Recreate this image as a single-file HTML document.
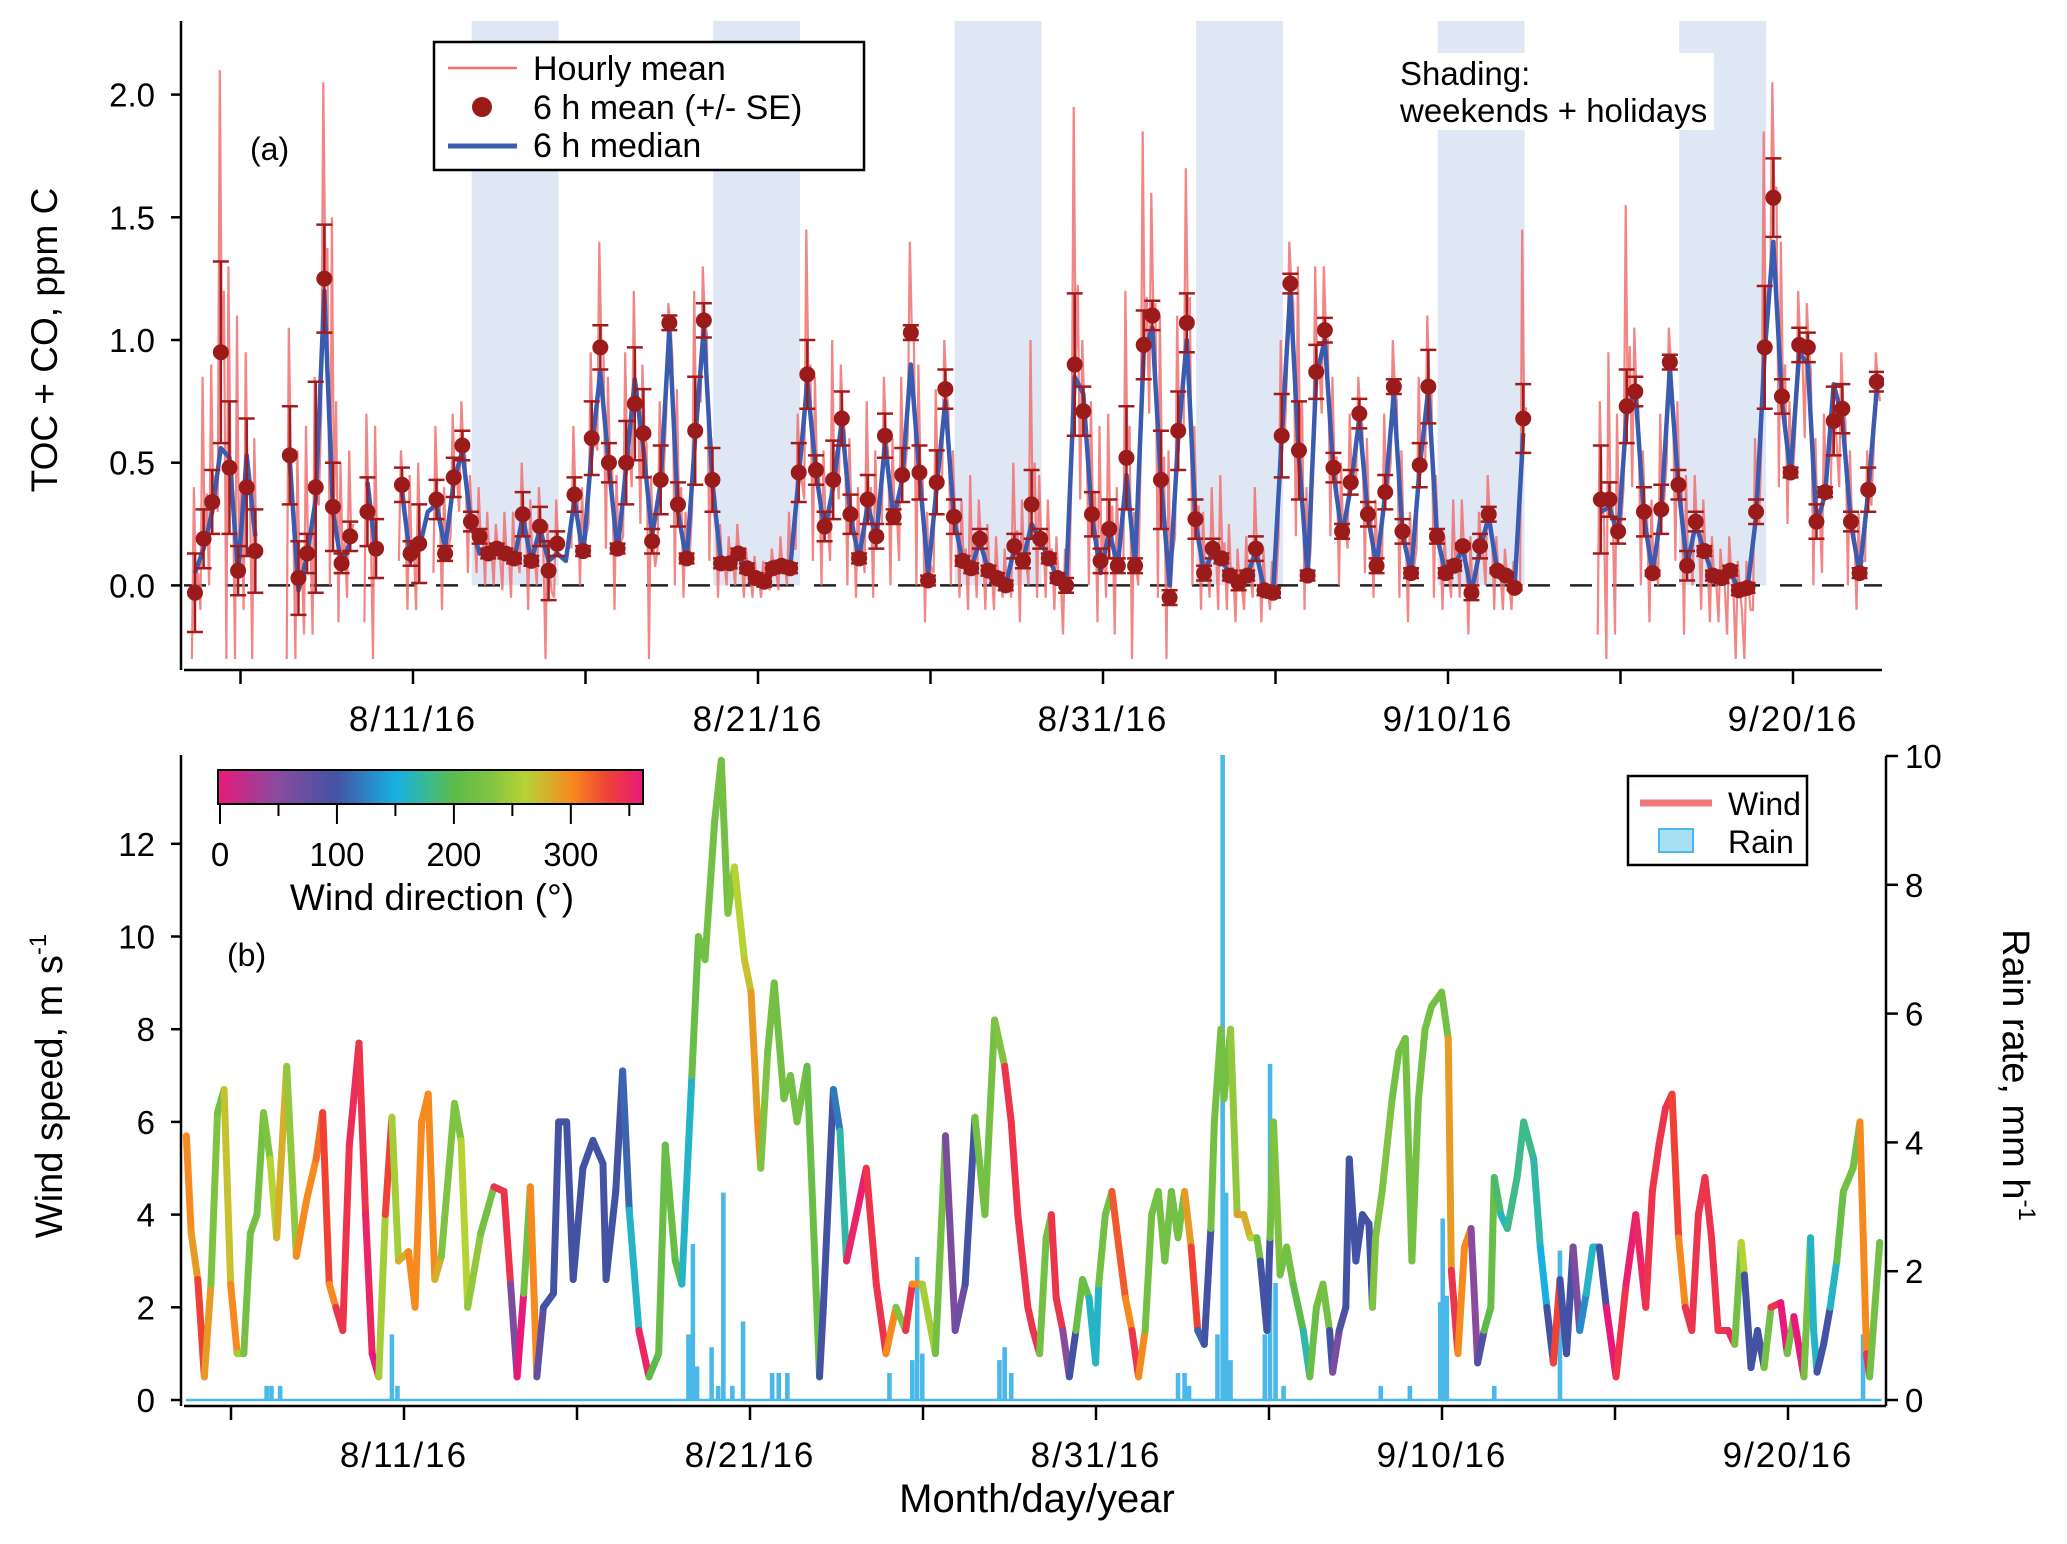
<!DOCTYPE html>
<html><head><meta charset="utf-8">
<style>
html,body{margin:0;padding:0;background:#fff;}
svg{display:block;font-family:"Liberation Sans",Arial,sans-serif;}
</style></head>
<body>
<svg id="chart" width="2067" height="1544" viewBox="0 0 2067 1544" xmlns="http://www.w3.org/2000/svg">
<defs>
<clipPath id="clipTop"><rect x="182" y="21" width="1702" height="648"/></clipPath>
<clipPath id="clipBot"><rect x="182" y="755" width="1704" height="650"/></clipPath>
<linearGradient id="dirGrad" x1="0" x2="1" y1="0" y2="0">
<stop offset="0" stop-color="#e8197b"/><stop offset="0.139" stop-color="#8a4b9e"/><stop offset="0.278" stop-color="#4452a3"/><stop offset="0.417" stop-color="#17b0e3"/><stop offset="0.5" stop-color="#3dbb8a"/><stop offset="0.556" stop-color="#5dbb4a"/><stop offset="0.639" stop-color="#80c342"/><stop offset="0.722" stop-color="#b6d334"/><stop offset="0.833" stop-color="#f68a1f"/><stop offset="0.917" stop-color="#ef4136"/><stop offset="1" stop-color="#e8197b"/>
</linearGradient>
</defs>
<g id="topShade"></g>
<g id="topData" clip-path="url(#clipTop)"></g>
<g id="topAxes"></g>
<g id="botData" clip-path="url(#clipBot)"></g>
<g id="botAxes"></g>

<g>
<rect x="434" y="42" width="430" height="128" fill="#fff" stroke="#000" stroke-width="2.5"/>
<line x1="448" y1="68" x2="517" y2="68" stroke="#f07070" stroke-width="2.5"/>
<text x="533" y="80" font-size="34">Hourly mean</text>
<circle cx="482" cy="107" r="10" fill="#9b1b1b"/>
<text x="533" y="119" font-size="34">6 h mean (+/- SE)</text>
<line x1="448" y1="146" x2="517" y2="146" stroke="#3a5bb0" stroke-width="5"/>
<text x="533" y="157" font-size="34">6 h median</text>
</g>
<text x="250" y="160" font-size="32">(a)</text>
<g>
<rect x="1396" y="53" width="318" height="77" fill="#fff"/>
<text x="1400" y="85" font-size="33">Shading:</text>
<text x="1400" y="122" font-size="33">weekends + holidays</text>
</g>
<text transform="translate(57,340) rotate(-90)" text-anchor="middle" font-size="37">TOC + CO, ppm C</text>

<g>
<rect x="218" y="770" width="425" height="34" fill="url(#dirGrad)" stroke="#000" stroke-width="2"/>
<text x="432" y="910" text-anchor="middle" font-size="37">Wind direction (°)</text>
</g>
<text x="227" y="966" font-size="32">(b)</text>
<g>
<rect x="1628" y="776" width="179" height="89" fill="#fff" stroke="#000" stroke-width="2.5"/>
<line x1="1640" y1="803" x2="1712" y2="803" stroke="#f07878" stroke-width="7"/>
<text x="1728" y="815" font-size="32">Wind</text>
<rect x="1659" y="829" width="34" height="23" fill="#a8e0f5" stroke="#4ab8e8" stroke-width="2"/>
<text x="1728" y="853" font-size="32">Rain</text>
</g>
<text transform="translate(62,1086) rotate(-90)" text-anchor="middle" font-size="38">Wind speed, m s<tspan dy="-16" font-size="24">-1</tspan></text>
<text transform="translate(2003,1075) rotate(90)" text-anchor="middle" font-size="38">Rain rate, mm h<tspan dy="-16" font-size="24">-1</tspan></text>
<text x="1037" y="1512" text-anchor="middle" font-size="40">Month/day/year</text>
</svg>
<script>
const tocStart = 3.68;
const tocStep = 0.25;
const tocMean = [-0.03,0.19,0.34,0.95,0.48,0.06,0.40,0.14,null,null,
null,0.53,0.03,0.13,0.40,1.25,0.32,0.09,0.20,null,
0.30,0.15,null,null,0.41,0.13,0.17,null,0.35,0.13,
0.44,0.57,0.26,0.20,0.13,0.15,0.13,0.11,0.29,0.10,
0.24,0.06,0.17,null,0.37,0.14,0.60,0.97,0.50,0.15,
0.50,0.74,0.62,0.18,0.43,1.07,0.33,0.11,0.63,1.08,
0.43,0.09,0.09,0.13,0.07,0.03,0.015,0.07,0.08,0.07,
0.46,0.86,0.47,0.24,0.43,0.68,0.29,0.11,0.35,0.20,
0.61,0.28,0.45,1.03,0.46,0.02,0.42,0.80,0.28,0.10,
0.07,0.19,0.06,0.03,0.00,0.16,0.10,0.33,0.19,0.11,
0.03,0.00,0.90,0.71,0.29,0.10,0.23,0.08,0.52,0.08,
0.98,1.10,0.43,-0.05,0.63,1.07,0.27,0.05,0.15,0.11,
0.04,0.01,0.04,0.15,-0.02,-0.03,0.61,1.23,0.55,0.04,
0.87,1.04,0.48,0.22,0.42,0.70,0.29,0.08,0.38,0.81,
0.22,0.05,0.49,0.81,0.20,0.05,0.08,0.16,-0.03,0.16,
0.29,0.06,0.04,-0.01,0.68,null,null,null,null,null,
null,null,null,0.35,0.35,0.22,0.73,0.79,0.30,0.05,
0.31,0.91,0.41,0.08,0.26,0.14,0.04,0.03,0.06,-0.02,
-0.01,0.30,0.97,1.58,0.77,0.46,0.98,0.97,0.26,0.38,
0.67,0.72,0.26,0.05,0.39,0.83];
const tocMedian = [0.05,0.15,0.30,0.56,0.52,0.05,0.53,0.20,null,null,
null,0.50,-0.02,0.12,0.35,1.20,0.30,0.08,0.18,null,
0.42,0.12,null,null,0.38,0.10,0.15,0.30,0.33,0.15,
0.42,0.55,0.25,0.13,0.14,0.13,0.12,0.10,0.28,0.10,
0.23,0.10,0.13,0.10,0.35,0.12,0.55,0.87,0.48,0.14,
0.48,0.84,0.55,0.20,0.42,1.04,0.30,0.10,0.60,1.05,
0.41,0.09,0.09,0.12,0.07,0.03,0.02,0.07,0.08,0.07,
0.44,0.83,0.46,0.22,0.40,0.67,0.28,0.11,0.33,0.19,
0.58,0.27,0.43,0.90,0.45,0.05,0.40,0.75,0.27,0.10,
0.07,0.18,0.06,0.03,0.00,0.15,0.10,0.25,0.18,0.11,
0.03,0.01,0.85,0.78,0.28,0.05,0.22,0.08,0.45,0.08,
0.95,1.05,0.42,0.00,0.60,1.00,0.26,0.05,0.14,0.11,
0.04,0.01,0.04,0.14,-0.02,-0.03,0.60,1.20,0.52,0.04,
0.85,1.00,0.46,0.20,0.40,0.68,0.28,0.08,0.37,0.78,
0.21,0.05,0.48,0.80,0.20,0.05,0.08,0.15,-0.03,0.15,
0.28,0.06,0.04,-0.01,0.62,null,null,null,null,null,
null,null,null,0.30,0.32,0.20,0.70,0.80,0.28,0.05,
0.30,0.88,0.40,0.08,0.25,0.14,0.04,0.03,0.06,-0.02,
-0.01,0.28,0.95,1.40,0.75,0.45,0.95,0.90,0.25,0.37,
0.82,0.68,0.25,0.05,0.38,0.80];
const tocSE = [0.16,0.12,0.13,0.37,0.27,0.10,0.28,0.17,null,null,
null,0.20,0.15,0.08,0.43,0.22,0.18,0.04,0.06,null,
0.14,0.12,null,null,0.07,0.05,0.16,null,0.08,0.03,
0.08,0.06,0.04,0.03,0.02,0.02,0.02,0.02,0.09,0.02,
0.08,0.12,0.05,null,0.07,0.02,0.15,0.09,0.08,0.02,
0.17,0.23,0.18,0.05,0.14,0.03,0.09,0.02,0.22,0.07,
0.13,0.02,0.02,0.02,0.02,0.02,0.02,0.02,0.02,0.02,
0.12,0.14,0.06,0.06,0.16,0.11,0.08,0.02,0.10,0.05,
0.09,0.03,0.11,0.03,0.11,0.02,0.13,0.08,0.07,0.02,
0.02,0.04,0.02,0.02,0.02,0.05,0.03,0.14,0.04,0.02,
0.02,0.03,0.29,0.10,0.09,0.05,0.12,0.03,0.21,0.03,
0.14,0.06,0.20,0.03,0.16,0.12,0.08,0.03,0.04,0.02,
0.02,0.03,0.02,0.05,0.02,0.02,0.17,0.04,0.20,0.02,
0.11,0.05,0.06,0.03,0.05,0.06,0.05,0.03,0.07,0.03,
0.05,0.02,0.09,0.15,0.03,0.02,0.02,0.01,0.03,0.05,
0.03,0.01,0.01,0.01,0.14,null,null,null,null,null,
null,null,null,0.22,0.07,0.05,0.15,0.06,0.10,0.01,
0.10,0.03,0.06,0.06,0.04,0.02,0.02,0.02,0.02,0.02,
0.02,0.05,0.25,0.16,0.07,0.02,0.07,0.06,0.07,0.02,
0.14,0.10,0.04,0.02,0.09,0.04];
const hourlyHi = [0.40,0.85,0.90,2.10,1.30,1.10,0.95,0.60,null,null,
null,1.05,0.55,0.65,0.85,2.05,1.50,0.50,0.55,null,
0.70,0.65,null,null,0.55,0.45,0.50,null,0.65,0.40,
0.70,0.75,0.45,0.40,0.30,0.25,0.30,0.30,0.50,0.35,
0.40,0.25,0.35,null,0.65,0.40,0.95,1.40,0.85,0.45,
0.95,1.20,0.90,0.45,0.75,1.15,0.80,0.30,1.20,1.30,
0.60,0.25,0.20,0.25,0.15,0.12,0.10,0.15,0.20,0.30,
0.70,1.45,0.85,0.55,1.00,0.90,0.60,0.40,0.75,0.55,
0.85,0.60,0.85,1.40,0.90,0.30,0.80,1.00,0.55,0.35,
0.45,0.35,0.25,0.20,0.15,0.50,0.35,1.00,0.45,0.35,
0.20,0.15,1.95,1.00,0.75,0.65,0.70,0.40,1.20,0.30,
1.85,1.60,1.10,0.55,1.10,1.70,0.65,0.30,0.40,0.45,
0.25,0.15,0.20,0.40,0.15,0.10,1.00,1.40,1.30,0.40,
1.30,1.30,0.85,0.50,0.70,0.85,0.60,0.35,0.70,1.00,
0.55,0.30,0.85,1.10,0.45,0.20,0.35,0.35,0.20,0.30,
0.45,0.20,0.15,0.10,1.45,null,null,null,null,null,
null,null,null,0.75,0.95,0.70,1.55,1.05,0.55,0.35,
0.70,1.05,0.75,0.45,0.45,0.35,0.20,0.15,0.20,0.10,
0.10,0.60,1.85,2.05,1.40,0.75,1.20,1.15,0.60,0.70,
0.80,0.95,0.55,0.30,0.55,0.95];
const hourlyLo = [-0.30,-0.10,0.00,0.30,-0.30,-0.30,-0.10,-0.30,null,null,
null,-0.30,-0.30,-0.20,-0.20,0.70,0.00,-0.15,-0.05,null,
-0.15,-0.30,null,null,0.10,-0.10,-0.10,null,0.05,-0.10,
0.20,0.30,0.05,0.05,0.00,0.00,-0.02,-0.05,0.05,-0.10,
0.00,-0.30,-0.05,null,0.15,0.00,0.25,0.55,0.15,-0.10,
0.20,0.40,0.25,-0.30,0.15,0.70,0.00,-0.05,0.30,0.75,
0.10,-0.05,0.00,0.00,-0.05,-0.05,-0.05,-0.02,-0.02,0.00,
0.15,0.35,0.10,0.00,0.10,0.35,0.00,-0.05,0.05,-0.05,
0.25,0.00,0.10,0.60,0.00,-0.15,0.05,0.45,0.00,-0.05,
-0.10,-0.05,-0.10,-0.10,-0.05,-0.05,-0.15,0.00,-0.05,-0.05,
-0.10,-0.20,0.50,0.35,0.00,-0.15,-0.05,-0.20,0.10,-0.30,
0.50,0.70,-0.05,-0.30,0.20,0.65,0.00,-0.10,-0.05,-0.10,
-0.10,-0.15,-0.10,-0.05,-0.15,-0.10,0.20,0.90,0.20,-0.10,
0.50,0.70,0.20,0.00,0.15,0.45,0.05,-0.05,0.10,0.50,
-0.05,-0.15,0.15,0.50,-0.05,-0.10,-0.05,-0.05,-0.20,-0.05,
0.00,-0.10,-0.10,-0.10,0.00,null,null,null,null,null,
null,null,null,-0.20,-0.30,-0.20,0.40,0.40,0.00,-0.15,
0.00,0.50,0.10,-0.20,0.00,-0.10,-0.15,-0.15,-0.20,-0.30,
-0.30,-0.10,0.60,1.20,0.40,0.25,0.70,0.60,0.00,0.05,
0.35,0.40,0.00,-0.10,0.10,0.55];
const weekendStart = [11.7,18.7,25.7,32.7,39.7,46.7];
const weekendLength = [2.52,2.52,2.52,2.52,2.52,2.52];
const topYTicks = [0.0,0.5,1.0,1.5,2.0];
const topYTickLabels = ["0.0","0.5","1.0","1.5","2.0"];
const dateTicks = [5,10,15,20,25,30,35,40,45,50];
const dateLabelDays = [10,20,30,40,50];
const dateLabels = ["8/11/16","8/21/16","8/31/16","9/10/16","9/20/16"];

const windTime = [3.71,3.85,4.04,4.23,4.42,4.61,4.80,4.99,5.18,5.37,5.56,5.75,5.94,6.13,6.32,6.61,6.89,7.18,7.46,7.65,7.84,8.03,8.23,8.42,8.70,8.89,9.08,9.27,9.46,9.65,9.84,10.13,10.32,10.51,10.70,10.89,11.08,11.46,11.65,11.84,12.22,12.60,12.89,13.08,13.27,13.46,13.65,13.84,14.03,14.32,14.47,14.70,14.89,15.17,15.46,15.75,15.84,16.12,16.32,16.51,16.79,17.08,17.36,17.55,17.84,18.03,18.32,18.51,18.70,18.98,19.17,19.36,19.55,19.84,20.03,20.22,20.31,20.51,20.70,20.98,21.17,21.36,21.65,22.01,22.12,22.41,22.60,22.79,23.08,23.36,23.65,23.93,24.22,24.50,24.69,24.98,25.36,25.65,25.93,26.22,26.50,26.79,27.07,27.36,27.55,27.74,28.03,
28.18,28.37,28.56,28.71,28.85,29.04,29.23,29.42,29.61,29.80,29.99,30.08,30.27,30.46,30.66,30.85,31.04,31.23,31.42,31.61,31.80,31.99,32.18,32.37,32.56,32.75,32.94,33.13,33.32,33.42,33.61,33.70,33.89,34.08,34.27,34.46,34.65,34.75,34.94,35.03,35.13,35.32,35.51,35.70,35.99,36.18,36.37,36.56,36.75,36.84,37.03,37.22,37.32,37.51,37.70,37.89,37.99,38.08,38.27,38.56,38.75,38.94,39.13,39.32,39.51,39.70,39.99,40.18,40.27,40.46,40.65,40.84,41.03,41.22,41.41,41.51,41.70,41.89,42.17,42.36,42.65,42.84,43.03,43.22,43.41,43.60,43.79,43.98,44.17,44.36,44.55,44.75,45.03,45.32,45.60,45.89,46.08,46.27,46.46,46.65,46.84,47.03,47.22,47.41,47.60,47.79,47.98,48.27,48.46,48.65,48.74,48.93,49.12,49.31,49.51,49.79,49.98,50.17,50.46,50.65,50.74,50.84,51.03,51.22,51.41,51.60,51.88,52.08,52.27,52.36,52.65];
const windSpeed = [5.7,3.6,2.6,0.5,2.5,6.2,6.7,2.5,1.0,1.0,3.6,4.0,6.2,5.2,3.5,7.2,3.1,4.3,5.2,6.2,2.5,2.0,1.5,5.5,7.7,4.0,1.0,0.5,4.0,6.1,3.0,3.2,2.0,6.0,6.6,2.6,3.1,6.4,5.6,2.0,3.6,4.6,4.5,2.5,0.5,2.3,4.6,0.5,2.0,2.3,6.0,6.0,2.6,5.0,5.6,5.1,2.6,4.5,7.1,4.1,1.5,0.5,1.0,5.5,3.0,2.5,7.0,10.0,9.5,12.5,13.8,10.5,11.5,9.5,8.8,6.0,5.0,7.5,9.0,6.5,7.0,6.0,7.2,0.5,2.0,6.7,5.8,3.0,4.0,5.0,2.5,1.0,2.0,1.5,2.5,2.5,1.0,5.7,1.5,2.5,6.1,4.0,8.2,7.2,6.0,4.0,2.0,
1.5,1.0,3.5,4.0,2.2,1.5,0.5,1.5,2.6,2.2,0.8,2.5,4.0,4.5,3.3,2.2,1.5,0.5,1.5,4.0,4.5,3.0,4.5,3.5,4.5,3.3,1.5,1.2,3.7,6.0,8.0,6.5,8.0,4.0,4.0,3.5,3.5,3.0,1.5,3.5,6.0,2.7,3.3,2.5,1.5,0.5,2.0,2.5,1.5,0.6,1.5,2.0,5.2,3.0,4.0,3.8,2.0,3.5,4.5,6.5,7.5,7.8,3.0,6.5,8.0,8.5,8.8,7.8,2.8,1.0,3.3,3.7,0.8,1.5,2.0,4.8,4.0,3.7,4.8,6.0,5.2,3.3,2.0,0.8,2.6,1.0,3.3,1.5,2.3,3.3,3.3,2.0,0.5,2.5,4.0,2.0,4.5,5.5,6.3,6.6,3.5,2.0,1.5,4.0,4.8,3.5,1.5,1.5,1.2,3.4,2.7,0.7,1.5,0.7,2.0,2.1,1.0,1.8,0.5,3.5,1.5,0.6,1.2,2.0,3.0,4.5,5.0,6.0,1.0,0.5,3.4];
const windDir = [300,300,290,330,290,230,220,270,300,250,220,220,220,230,260,280,240,300,300,310,330,300,340,340,345,340,350,0,250,330,250,280,300,300,300,300,280,230,230,260,240,220,340,340,60,0,220,300,80,100,100,100,100,100,100,100,100,100,100,110,160,350,200,210,210,200,160,210,220,220,220,220,230,260,270,290,300,230,220,220,220,220,220,210,100,100,120,170,350,355,340,340,300,230,340,300,250,220,60,70,100,220,220,230,340,340,340,
340,340,220,220,340,340,50,100,210,210,160,160,220,220,320,320,300,340,300,220,220,220,220,220,220,290,330,110,100,220,220,220,220,240,290,280,260,220,100,100,220,230,220,220,200,170,210,220,220,100,60,90,100,100,100,100,100,230,230,230,220,220,220,220,220,220,220,220,290,340,300,300,50,90,200,210,190,160,180,180,180,170,150,100,330,100,100,60,130,160,160,100,0,340,355,350,340,340,340,340,330,300,340,340,340,340,340,340,350,220,260,100,100,100,220,340,0,220,0,220,160,160,100,100,160,210,220,220,300,340,220];
const rainTime = [6.03,6.17,6.42,9.65,9.81,18.22,18.35,18.47,18.89,19.08,19.23,19.49,19.80,20.64,20.83,21.08,24.03,24.69,24.83,24.98,27.21,27.36,27.55,32.37,32.56,32.69,33.51,33.66,33.76,33.89,34.88,35.03,35.19,35.42,38.23,39.07,39.95,40.02,40.14,41.51,43.41,52.17];
const rainRate = [0.2,0.2,0.2,1.0,0.2,1.0,2.4,0.5,0.8,0.2,3.2,0.2,1.2,0.4,0.4,0.4,0.4,0.6,2.2,0.7,0.6,0.8,0.4,0.4,0.4,0.2,1.0,10.0,3.2,0.6,1.0,5.2,1.8,0.2,0.2,0.2,1.5,2.8,1.6,0.2,2.3,1.0];
const rainSpan = [3.7,52.7];
const windYTicks = [0,2,4,6,8,10,12];
const rainYTicks = [0,2,4,6,8,10];
const dirTicks = [0,50,100,150,200,250,300,350];
const dirLabels = [0,100,200,300];

const NS = "http://www.w3.org/2000/svg";
function el(tag, parent){ const e=document.createElementNS(NS,tag); parent.appendChild(e); return e; }
function xTop(t){ return 413 + (t-10)*34.5; }
function yTop(v){ return 585.4 - v*245.4; }
function xBot(t){ return 404 + (t-10)*34.6; }
function yWind(v){ return 1400 - v*46.35; }
function yRain(r){ return 1400 - r*64.4; }
function xDir(d){ return 220 + d*(641-220)/360; }
const dirStops=[[0,[232,25,123]],[50,[138,75,158]],[100,[68,82,163]],[150,[23,176,227]],[180,[61,187,138]],[200,[93,187,74]],[230,[128,195,66]],[260,[182,211,52]],[300,[246,138,31]],[330,[239,65,54]],[360,[232,25,123]]];
function dirColor(d){
  d=((d%360)+360)%360;
  for(let k=0;k<dirStops.length-1;k++){
    const a=dirStops[k],b=dirStops[k+1];
    if(d>=a[0]&&d<=b[0]){const f=(d-a[0])/(b[0]-a[0]);
      const c=a[1].map((v,j)=>Math.round(v+(b[1][j]-v)*f));return "rgb("+c.join(",")+")";}
  }
  return "rgb(232,25,123)";
}

const gShade=document.getElementById("topShade");
weekendStart.forEach((s,k)=>{
  const r=el("rect",gShade);
  r.setAttribute("x",xTop(s)); r.setAttribute("y",21);
  r.setAttribute("width",xTop(s+weekendLength[k])-xTop(s)); r.setAttribute("height",yTop(0)-21);
  r.setAttribute("fill","#dfe7f4");
  
  
});
const gTop=document.getElementById("topData");
const zl=el("line",gTop);
zl.setAttribute("x1",184);zl.setAttribute("x2",1882);zl.setAttribute("y1",yTop(0));zl.setAttribute("y2",yTop(0));
zl.setAttribute("stroke","#222");zl.setAttribute("stroke-width",2.5);zl.setAttribute("stroke-dasharray","22 20");


function segPaths(arrFn){
  const segs=[];let cur=[];
  for(let i=0;i<tocMean.length;i++){
    const pts=arrFn(i);
    if(pts===null){ if(cur.length) segs.push(cur); cur=[]; continue; }
    cur.push(...pts);
  }
  if(cur.length) segs.push(cur);
  return segs;
}
segPaths(i=>{
  if(hourlyHi[i]===null) return null;
  const t=tocStart+i*tocStep;
  return [[xTop(t-0.09),yTop(hourlyLo[i])],[xTop(t-0.03),yTop(hourlyHi[i])],[xTop(t+0.03),yTop(tocMean[i])],[xTop(t+0.09),yTop(hourlyLo[i]+0.5*(hourlyHi[i]-hourlyLo[i]))]];
}).forEach(seg=>{
  const p=el("polyline",gTop);
  p.setAttribute("points",seg.map(q=>q[0].toFixed(1)+","+q[1].toFixed(1)).join(" "));
  p.setAttribute("fill","none");p.setAttribute("stroke","#f07070");p.setAttribute("stroke-width",2.2);p.setAttribute("stroke-opacity",0.85);
  
  
});
segPaths(i=>tocMedian[i]===null?null:[[xTop(tocStart+i*tocStep),yTop(tocMedian[i])]]).forEach(seg=>{
  const p=el("polyline",gTop);
  p.setAttribute("points",seg.map(q=>q[0].toFixed(1)+","+q[1].toFixed(1)).join(" "));
  p.setAttribute("fill","none");p.setAttribute("stroke","#3a5bb0");p.setAttribute("stroke-width",4.5);p.setAttribute("stroke-linejoin","round");
  
  
});
tocMean.forEach((m,i)=>{
  if(m===null) return;
  const t=tocStart+i*tocStep, x=xTop(t), se=tocSE[i];
  const g=el("g",gTop);
  
  
  const y1=yTop(m+se), y2=yTop(m-se);
  const v=el("line",g); v.setAttribute("x1",x);v.setAttribute("x2",x);v.setAttribute("y1",y1);v.setAttribute("y2",y2);
  v.setAttribute("stroke","#a01c1c");v.setAttribute("stroke-width",2.5);
  [y1,y2].forEach(yy=>{const c=el("line",g);c.setAttribute("x1",x-8);c.setAttribute("x2",x+8);c.setAttribute("y1",yy);c.setAttribute("y2",yy);c.setAttribute("stroke","#a01c1c");c.setAttribute("stroke-width",2.5);});
  const c=el("circle",g); c.setAttribute("cx",x);c.setAttribute("cy",yTop(m));c.setAttribute("r",8);c.setAttribute("fill","#9b1b1b");
});
const gTA=document.getElementById("topAxes");
function line(g,x1,y1,x2,y2,w){const l=el("line",g);l.setAttribute("x1",x1);l.setAttribute("y1",y1);l.setAttribute("x2",x2);l.setAttribute("y2",y2);l.setAttribute("stroke","#000");l.setAttribute("stroke-width",w||2.5);return l;}
function txt(g,x,y,s,anchor,size){const t=el("text",g);t.setAttribute("x",x);t.setAttribute("y",y);t.setAttribute("text-anchor",anchor||"middle");t.setAttribute("font-size",size||30);t.textContent=s;return t;}
const la=line(gTA,181,21,181,670);


const ba=line(gTA,184,670,1882,670);


topYTicks.forEach((v,k)=>{
  line(gTA,171,yTop(v),181,yTop(v));
  const t=txt(gTA,155,yTop(v)+12,topYTickLabels[k],"end",33);
  
  
});
dateTicks.forEach(d=>{ line(gTA,xTop(d),670,xTop(d),684); });
dateLabelDays.forEach((d,k)=>{
  const t=txt(gTA,xTop(d),731,dateLabels[k],"middle",35);
  t.setAttribute("letter-spacing","2");
  
  
});

const gB=document.getElementById("botData");
let rp="M"+xBot(rainSpan[0])+","+yRain(0);
rainTime.forEach((t,k)=>{
  rp+=" L"+xBot(t-0.03).toFixed(1)+","+yRain(0)+" L"+xBot(t-0.03).toFixed(1)+","+yRain(rainRate[k]).toFixed(1)+" L"+xBot(t+0.03).toFixed(1)+","+yRain(rainRate[k]).toFixed(1)+" L"+xBot(t+0.03).toFixed(1)+","+yRain(0);
});
rp+=" L"+xBot(rainSpan[1])+","+yRain(0);
const rain=el("path",gB);
rain.setAttribute("d",rp);rain.setAttribute("fill","#9fdaf3");rain.setAttribute("stroke","#4ab8e8");rain.setAttribute("stroke-width",2.5);


for(let i=0;i<windTime.length-1;i++){
  const s=el("line",gB);
  s.setAttribute("x1",xBot(windTime[i]));s.setAttribute("y1",yWind(windSpeed[i]));
  s.setAttribute("x2",xBot(windTime[i+1]));s.setAttribute("y2",yWind(windSpeed[i+1]));
  s.setAttribute("stroke",dirColor(windDir[i+1]));s.setAttribute("stroke-width",7);s.setAttribute("stroke-linecap","round");
  
  
}
const gBA=document.getElementById("botAxes");
const lb=line(gBA,181,755,181,1406);


const rb=line(gBA,1886,756,1886,1406);


const bb=line(gBA,184,1406,1886,1406);


windYTicks.forEach(v=>{
  line(gBA,171,yWind(v),181,yWind(v));
  const t=txt(gBA,155,yWind(v)+12,String(v),"end",33);
  
  
});
rainYTicks.forEach(v=>{
  line(gBA,1886,yRain(v),1898,yRain(v));
  const t=txt(gBA,1905,yRain(v)+12,String(v),"start",33);
  
  
});
dateTicks.forEach(d=>{ line(gBA,xBot(d),1406,xBot(d),1420); });
dateLabelDays.forEach((d,k)=>{
  const t=txt(gBA,xBot(d),1467,dateLabels[k],"middle",35);
  t.setAttribute("letter-spacing","2");
  
  
});
dirTicks.forEach(d=>{ line(gBA,xDir(d),804,xDir(d),(d%100===0)?824:816,2); });
dirLabels.forEach(d=>{
  const t=txt(gBA,xDir(d),866,String(d),"middle",33);
  
  
});
</script>
</body></html>
